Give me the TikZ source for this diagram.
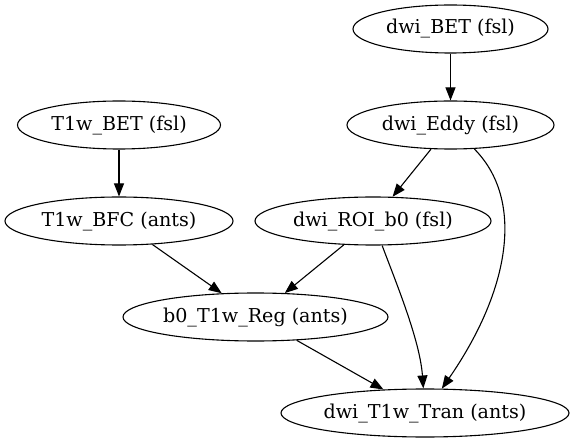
\documentclass[tikz,border=0pt]{standalone}
\usepackage{fontspec}
\setmainfont{DejaVu Serif}
\usetikzlibrary{arrows.meta,shapes.geometric}
\begin{document}
\begin{tikzpicture}[x=1pt,y=1pt,
  proc/.style={draw,ellipse,line width=1.1pt,inner sep=0pt,minimum height=48pt,font=\fontsize{19.1}{22}\selectfont},
  edge/.style={draw,line width=1.1pt,-{Triangle[length=13pt,width=10pt]}}]
\useasboundingbox (0,0) rectangle (575,-443);
\node[proc,minimum width=195pt] (dbet) at (450.5,-29) {dwi\_BET (fsl)};
\node[proc,minimum width=207pt] (eddy) at (450.5,-125) {dwi\_Eddy (fsl)};
\node[proc,minimum width=203pt] (tbet) at (119,-125) {T1w\_BET (fsl)};
\node[proc,minimum width=228pt] (bfc) at (119,-221) {T1w\_BFC (ants)};
\node[proc,minimum width=236pt] (roi) at (373,-221) {dwi\_ROI\_b0 (fsl)};
\node[proc,minimum width=265pt] (reg) at (255.5,-317) {b0\_T1w\_Reg (ants)};
\node[proc,minimum width=288pt] (tran) at (425,-413) {dwi\_T1w\_Tran (ants)};
\draw[edge] (dbet) -- (eddy);
\draw[edge] (tbet) -- (bfc);
\draw[edge] (eddy) -- (roi);
\draw[edge] (eddy) .. controls (525,-200) and (510,-290) .. (tran);
\draw[edge] (bfc) -- (reg);
\draw[edge] (roi) -- (reg);
\draw[edge] (roi) .. controls (395,-280) and (420,-340) .. (tran);
\draw[edge] (reg) -- (tran);
\end{tikzpicture}
\end{document}
